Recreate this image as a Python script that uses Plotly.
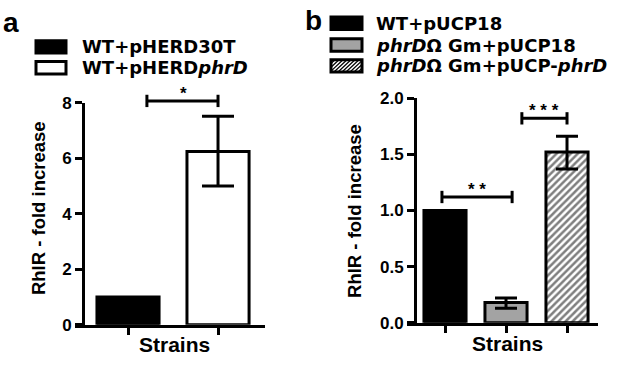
import plotly.graph_objects as go

# ---------------- data ----------------
a_strains = ["WT+pHERD30T", "WT+pHERDphrD"]
a_labels = ["WT+pHERD30T", "WT+pHERD<i>phrD</i>"]
a_values = [1.0, 6.25]
a_err_plus = [0.0, 1.27]
a_err_minus = [0.0, 1.25]
a_ticks = [0, 2, 4, 6, 8]

b_strains = ["WT+pUCP18", "phrDΩGm+pUCP18", "phrDΩGm+pUCP-phrD"]
b_labels = ["WT+pUCP18", "<i>phrD</i>Ω Gm+pUCP18", "<i>phrD</i>Ω Gm+pUCP-<i>phrD</i>"]
b_values = [1.0, 0.18, 1.52]
b_err_plus = [0.0, 0.04, 0.14]
b_err_minus = [0.0, 0.05, 0.15]
b_ticks = [0.0, 0.5, 1.0, 1.5, 2.0]

y_title = "RhlR - fold increase"
x_title = "Strains"

# ---------------- styles ----------------
W, H = 625, 366
FONT = "Liberation Sans, Arial, sans-serif"
LEGEND_FONT = "DejaVu Sans, Liberation Sans, sans-serif"
a_fill = ["black", "white"]
b_fill = ["black", "#a3a3a3", "white"]
b_pattern = ["", "", "/"]
a_cap = [16, 16]
b_cap = [11, 11, 11]


def px(x):
    return x / W


def py(y):
    return 1 - y / H


A_XDOM = [px(75), px(265)]
A_YDOM = [py(333), py(99)]
A_YPOS = px(83)
A_XRANGE = [-0.589, 1.522]
A_YMAX = 8

B_XDOM = [px(407), px(598)]
B_YDOM = [py(331), py(94)]
B_YPOS = px(415)
B_XRANGE = [-0.623, 2.508]
B_YMAX = 2


def to_paper(v, dom, vmax):
    return dom[0] + v / vmax * (dom[1] - dom[0])


fig = go.Figure()

for i, s in enumerate(a_strains):
    fig.add_trace(go.Bar(
        x=[s], y=[a_values[i]], width=0.69, xaxis="x", yaxis="y",
        marker=dict(color=a_fill[i], line=dict(color="black", width=3)),
        error_y=dict(type="data", array=[a_err_plus[i]], arrayminus=[a_err_minus[i]],
                     visible=a_err_plus[i] > 0, color="black", thickness=3, width=a_cap[i]),
        showlegend=False, name=s))

for i, s in enumerate(b_strains):
    fig.add_trace(go.Bar(
        x=[s], y=[b_values[i]], width=0.69, xaxis="x2", yaxis="y2",
        marker=dict(color=b_fill[i], line=dict(color="black", width=3),
                    pattern=dict(shape=b_pattern[i], fgcolor="black", bgcolor="white",
                                 size=5, solidity=0.5)),
        error_y=dict(type="data", array=[b_err_plus[i]], arrayminus=[b_err_minus[i]],
                     visible=b_err_plus[i] > 0, color="black", thickness=3, width=b_cap[i]),
        showlegend=False, name=s))

axis_common = dict(showline=True, linewidth=3, linecolor="black", ticks="outside",
                   ticklen=7, tickwidth=3, tickcolor="black", showgrid=False,
                   zeroline=False, fixedrange=True)
tickfont = dict(family=FONT, size=17, color="black", weight="bold")

shapes = []
annotations = []


def bracket(xref, x0, x1, v, dom, vmax, stars, star_x):
    yp = to_paper(v, dom, vmax)
    h = 6.5 / H
    shapes.append(dict(type="line", xref=xref, yref="paper", x0=x0, x1=x1, y0=yp, y1=yp,
                       line=dict(color="black", width=3)))
    for xx in (x0, x1):
        shapes.append(dict(type="line", xref=xref, yref="paper", x0=xx, x1=xx,
                           y0=yp - h, y1=yp + h, line=dict(color="black", width=3)))
    annotations.append(dict(xref=xref, yref="paper", x=star_x, y=yp - 4 / H, text=stars,
                            showarrow=False, yanchor="bottom", xanchor="center",
                            font=dict(family=FONT, size=17, color="black", weight="bold")))


# significance brackets
bracket("x", 0.21, 1.0, a_values[1] + a_err_plus[1] + 0.55, A_YDOM, A_YMAX, "*", 0.62)
bracket("x2", -0.05, 1.1, b_values[0] + 0.12, B_YDOM, B_YMAX, "* *", 0.52)
bracket("x2", 1.26, 2.0, b_values[2] + b_err_plus[2] + 0.16, B_YDOM, B_YMAX, "* * *", 1.63)


# legends (manual swatches + text)
def swatch(x0, y0, x1, y1, fill, hatch=False):
    shapes.append(dict(type="rect", xref="paper", yref="paper", x0=px(x0), x1=px(x1),
                       y0=py(y1), y1=py(y0), fillcolor=fill,
                       line=dict(color="black", width=3)))
    if hatch:
        parts = []
        hgt = y1 - y0
        c = x0 - hgt
        while c < x1:
            xa, ya = c, y1
            xb, yb = c + hgt, y0
            if xa < x0:
                ya = y1 - (x0 - xa)
                xa = x0
            if xb > x1:
                yb = y0 + (xb - x1)
                xb = x1
            if xb > xa:
                parts.append(f"M{px(xa):.5f},{py(ya):.5f} L{px(xb):.5f},{py(yb):.5f}")
            c += 4
        shapes.append(dict(type="path", xref="paper", yref="paper", path=" ".join(parts),
                           line=dict(color="black", width=1.2)))


legend_font = dict(family=LEGEND_FONT, size=18, color="black", weight="bold")
a_rows = [40, 62]
for i, lab in enumerate(a_labels):
    swatch(36, a_rows[i] - 6.5, 66, a_rows[i] + 6.5, a_fill[i])
    annotations.append(dict(xref="paper", yref="paper", x=px(81), y=py(a_rows[i]), text=lab,
                            showarrow=False, xanchor="left", yanchor="middle",
                            borderpad=0, font=legend_font))
b_rows = [15, 38, 60]
for i, lab in enumerate(b_labels):
    swatch(331, b_rows[i] - 6.5, 362, b_rows[i] + 6.5, b_fill[i], hatch=(b_pattern[i] == "/"))
    annotations.append(dict(xref="paper", yref="paper", x=px(375), y=py(b_rows[i]), text=lab,
                            showarrow=False, xanchor="left", yanchor="middle",
                            borderpad=0, font=legend_font))

# panel letters
for letter, x, y in (("a", 11, 14), ("b", 313, 12)):
    annotations.append(dict(xref="paper", yref="paper", x=px(x), y=py(y), text=letter,
                            showarrow=False, xanchor="center", yanchor="middle",
                            font=dict(family=FONT, size=28, color="black", weight="bold")))

# axis titles
for x, y in ((38, 210), (355, 213)):
    annotations.append(dict(xref="paper", yref="paper", x=px(x), y=py(y), text=y_title,
                            showarrow=False, textangle=-90, xanchor="center", yanchor="middle",
                            font=dict(family=FONT, size=18.5, color="black", weight="bold")))
for x, y in ((174, 354), (507, 353)):
    annotations.append(dict(xref="paper", yref="paper", x=px(x), y=py(y), text=x_title,
                            showarrow=False, xanchor="center", yanchor="middle",
                            font=dict(family=FONT, size=21, color="black", weight="bold")))

fig.update_layout(
    width=W, height=H, margin=dict(l=0, r=0, t=0, b=0),
    paper_bgcolor="white", plot_bgcolor="white", barmode="overlay",
    xaxis=dict(domain=A_XDOM, anchor="y", range=A_XRANGE, type="category",
               categoryorder="array", categoryarray=a_strains, showticklabels=False, **axis_common),
    yaxis=dict(domain=A_YDOM, anchor="free", position=A_YPOS, range=[0, A_YMAX],
               tickvals=a_ticks, tickfont=tickfont, **axis_common),
    xaxis2=dict(domain=B_XDOM, anchor="y2", range=B_XRANGE, type="category",
                categoryorder="array", categoryarray=b_strains, showticklabels=False, **axis_common),
    yaxis2=dict(domain=B_YDOM, anchor="free", position=B_YPOS, range=[0, B_YMAX],
                tickvals=b_ticks, tickformat=".1f", tickfont=tickfont, **axis_common),
    shapes=shapes, annotations=annotations, showlegend=False,
)

fig.write_html("out.html", config={"displayModeBar": False},
               post_script="document.body.style.margin='0';document.body.style.overflow='hidden';")
